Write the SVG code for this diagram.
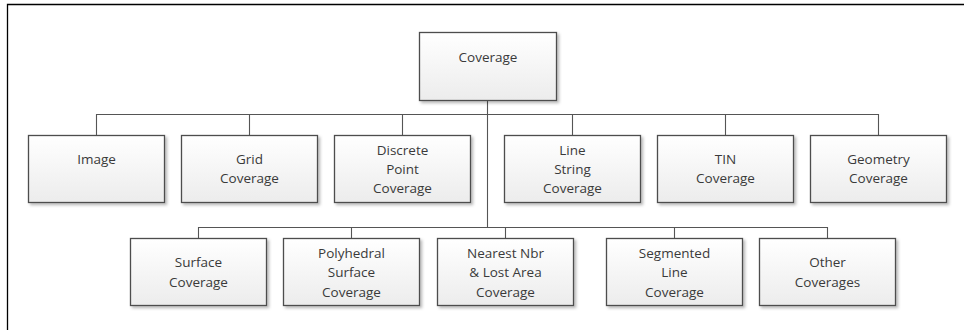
<svg xmlns="http://www.w3.org/2000/svg" width="964" height="330" viewBox="0 0 964 330">
  <defs>
    <linearGradient id="boxFill" x1="0" y1="0" x2="0" y2="1">
      <stop offset="0" stop-color="#ffffff"/>
      <stop offset="1" stop-color="#ececec"/>
    </linearGradient>
    <filter id="shadow" x="-10%" y="-10%" width="125%" height="130%">
      <feDropShadow dx="2" dy="2" stdDeviation="1.4" flood-color="#000" flood-opacity="0.28"/>
    </filter>
  </defs>
  <style>
    .box { fill: url(#boxFill); stroke: #4d4d4d; stroke-width: 1.3; filter: url(#shadow); }
    .lbl { font-family: "Open Sans", "Liberation Sans", sans-serif; font-size: 13.5px; fill: #3a3a3a; text-anchor: middle; }
    .conn { fill: none; stroke: #555555; stroke-width: 1.1; }
    .frame { fill: none; stroke: #000000; stroke-width: 1.3; }
  </style>

  <rect width="964" height="330" fill="#ffffff"/>
  <!-- page frame (top and left edges only) -->
  <path class="frame" d="M7.5,330 V4.5 H964"/>

  <!-- connectors -->
  <g id="connectors">
    <path class="conn" d="M487.5,100 V227.5"/>
    <path class="conn" d="M96.5,135 V114.5 H878.5 V135 M249.5,114.5 V135 M402.5,114.5 V135 M572.5,114.5 V135 M725.5,114.5 V135"/>
    <path class="conn" d="M198.5,238 V227.5 H827.5 V238 M351.5,227.5 V238 M505.5,227.5 V238 M674.5,227.5 V238"/>
  </g>

  <!-- root -->
  <g id="coverage">
    <rect class="box" x="419.5" y="32.5" width="137" height="68"/>
    <text class="lbl" x="488" y="62">Coverage</text>
  </g>

  <!-- first tier -->
  <g id="image">
    <rect class="box" x="28.5" y="135.5" width="136" height="67"/>
    <text class="lbl" x="96.5" y="164">Image</text>
  </g>
  <g id="grid-coverage">
    <rect class="box" x="181.5" y="135.5" width="136" height="67"/>
    <text class="lbl" x="249.5" y="164">Grid</text>
    <text class="lbl" x="249.5" y="183">Coverage</text>
  </g>
  <g id="discrete-point-coverage">
    <rect class="box" x="334.5" y="135.5" width="136" height="67"/>
    <text class="lbl" x="402.5" y="155">Discrete</text>
    <text class="lbl" x="402.5" y="174">Point</text>
    <text class="lbl" x="402.5" y="193">Coverage</text>
  </g>
  <g id="line-string-coverage">
    <rect class="box" x="504.5" y="135.5" width="136" height="67"/>
    <text class="lbl" x="572.5" y="155">Line</text>
    <text class="lbl" x="572.5" y="174">String</text>
    <text class="lbl" x="572.5" y="193">Coverage</text>
  </g>
  <g id="tin-coverage">
    <rect class="box" x="657.5" y="135.5" width="136" height="67"/>
    <text class="lbl" x="725.5" y="164">TIN</text>
    <text class="lbl" x="725.5" y="183">Coverage</text>
  </g>
  <g id="geometry-coverage">
    <rect class="box" x="810.5" y="135.5" width="136" height="67"/>
    <text class="lbl" x="878.5" y="164">Geometry</text>
    <text class="lbl" x="878.5" y="183">Coverage</text>
  </g>

  <!-- second tier -->
  <g id="surface-coverage">
    <rect class="box" x="130.5" y="238.5" width="136" height="67"/>
    <text class="lbl" x="198.5" y="267">Surface</text>
    <text class="lbl" x="198.5" y="286.5">Coverage</text>
  </g>
  <g id="polyhedral-surface-coverage">
    <rect class="box" x="283.5" y="238.5" width="136" height="67"/>
    <text class="lbl" x="351.5" y="257.5">Polyhedral</text>
    <text class="lbl" x="351.5" y="277">Surface</text>
    <text class="lbl" x="351.5" y="296.5">Coverage</text>
  </g>
  <g id="nearest-nbr-coverage">
    <rect class="box" x="437.5" y="238.5" width="136" height="67"/>
    <text class="lbl" x="505.5" y="257.5">Nearest Nbr</text>
    <text class="lbl" x="505.5" y="277">&amp; Lost Area</text>
    <text class="lbl" x="505.5" y="296.5">Coverage</text>
  </g>
  <g id="segmented-line-coverage">
    <rect class="box" x="606.5" y="238.5" width="136" height="67"/>
    <text class="lbl" x="674.5" y="257.5">Segmented</text>
    <text class="lbl" x="674.5" y="277">Line</text>
    <text class="lbl" x="674.5" y="296.5">Coverage</text>
  </g>
  <g id="other-coverages">
    <rect class="box" x="759.5" y="238.5" width="136" height="67"/>
    <text class="lbl" x="827.5" y="267">Other</text>
    <text class="lbl" x="827.5" y="286.5">Coverages</text>
  </g>
</svg>
